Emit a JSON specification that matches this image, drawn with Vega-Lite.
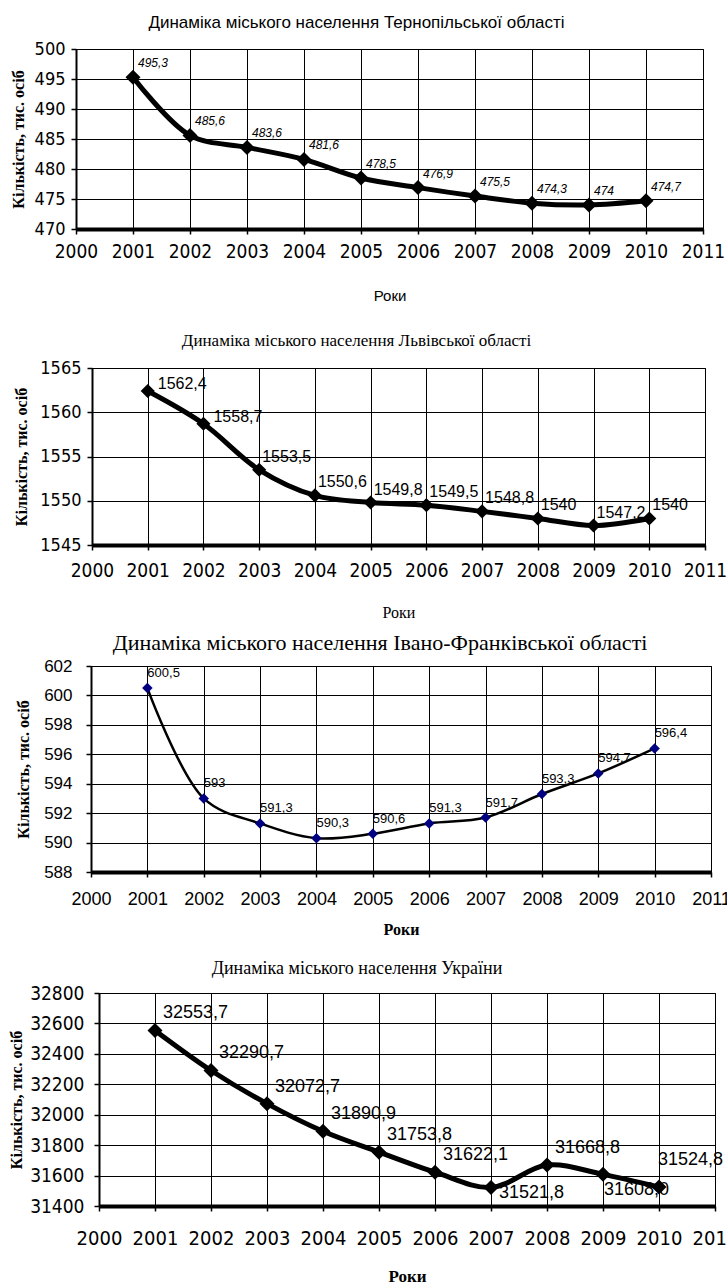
{
  "$schema": "https://vega.github.io/schema/vega-lite/v6.json",
  "background": "white",
  "padding": {"left": 0, "top": 13, "right": 0, "bottom": 0},
  "datasets": {
    "tern": [
      {"year": 2001, "value": 495.3, "label": "495,3"},
      {"year": 2002, "value": 485.6, "label": "485,6"},
      {"year": 2003, "value": 483.6, "label": "483,6"},
      {"year": 2004, "value": 481.6, "label": "481,6"},
      {"year": 2005, "value": 478.5, "label": "478,5"},
      {"year": 2006, "value": 476.9, "label": "476,9"},
      {"year": 2007, "value": 475.5, "label": "475,5"},
      {"year": 2008, "value": 474.3, "label": "474,3"},
      {"year": 2009, "value": 474.0, "label": "474"},
      {"year": 2010, "value": 474.7, "label": "474,7"}
    ],
    "lviv": [
      {"year": 2001, "value": 1562.4, "label": "1562,4"},
      {"year": 2002, "value": 1558.7, "label": "1558,7"},
      {"year": 2003, "value": 1553.5, "label": "1553,5"},
      {"year": 2004, "value": 1550.6, "label": "1550,6"},
      {"year": 2005, "value": 1549.8, "label": "1549,8"},
      {"year": 2006, "value": 1549.5, "label": "1549,5"},
      {"year": 2007, "value": 1548.8, "label": "1548,8"},
      {"year": 2008, "value": 1548.0, "label": "1540"},
      {"year": 2009, "value": 1547.2, "label": "1547,2"},
      {"year": 2010, "value": 1548.0, "label": "1540"}
    ],
    "ifr": [
      {"year": 2001, "value": 600.5, "label": "600,5"},
      {"year": 2002, "value": 593.0, "label": "593"},
      {"year": 2003, "value": 591.3, "label": "591,3"},
      {"year": 2004, "value": 590.3, "label": "590,3"},
      {"year": 2005, "value": 590.6, "label": "590,6"},
      {"year": 2006, "value": 591.3, "label": "591,3"},
      {"year": 2007, "value": 591.7, "label": "591,7"},
      {"year": 2008, "value": 593.3, "label": "593,3"},
      {"year": 2009, "value": 594.7, "label": "594,7"},
      {"year": 2010, "value": 596.4, "label": "596,4"}
    ],
    "ukr": [
      {"year": 2001, "value": 32553.7, "label": "32553,7"},
      {"year": 2002, "value": 32290.7, "label": "32290,7"},
      {"year": 2003, "value": 32072.7, "label": "32072,7"},
      {"year": 2004, "value": 31890.9, "label": "31890,9"},
      {"year": 2005, "value": 31753.8, "label": "31753,8"},
      {"year": 2006, "value": 31622.1, "label": "31622,1"},
      {"year": 2007, "value": 31521.8, "label": "31521,8"},
      {"year": 2008, "value": 31668.8, "label": "31668,8"},
      {"year": 2009, "value": 31608.0, "label": "31608,0"},
      {"year": 2010, "value": 31524.8, "label": "31524,8"}
    ]
  },
  "config": {
    "view": {"stroke": "black", "strokeWidth": 1},
    "title": {"color": "black", "fontWeight": "normal", "anchor": "middle"},
    "axis": {
      "grid": true, "gridColor": "black", "gridOpacity": 1, "gridWidth": 1,
      "domainColor": "black", "tickColor": "black", "tickSize": 5, "tickWidth": 1.5,
      "labelColor": "black", "titleColor": "black",
      "labelFont": "Liberation Sans Narrow, Arial Narrow, DejaVu Sans Condensed, sans-serif",
      "labelFontSize": 18, "labelOverlap": false, "labelFlush": false, "format": "d",
      "titleFont": "Liberation Serif", "titleFontWeight": "bold", "titleFontSize": 16
    },
    "axisX": {"domainWidth": 4, "labelAngle": 0, "labelPadding": 8},
    "axisY": {"domainWidth": 2, "labelPadding": 6}
  },
  "spacing": 0,
  "vconcat": [
    {
      "spacing": 0,
      "hconcat": [
        {"width": 9, "height": 282, "data": {"values": []}, "mark": "point", "view": {"stroke": null, "fill": "white"}},
        {
          "width": 627, "height": 180,
          "title": {"text": "Динаміка міського населення Тернопільської області", "font": "Liberation Sans Narrow, Arial Narrow, sans-serif", "fontSize": 17, "offset": 8, "dx": -33},
          "data": {"name": "tern"},
          "encoding": {
            "x": {"field": "year", "type": "quantitative", "scale": {"domain": [2000, 2011], "nice": false, "zero": false},
              "axis": {"values": [2000, 2001, 2002, 2003, 2004, 2005, 2006, 2007, 2008, 2009, 2010, 2011], "title": "Роки", "titleFont": "Liberation Sans", "titleFontWeight": "normal", "titleFontSize": 15, "titlePadding": 27, "labelFontSize": 19}},
            "y": {"field": "value", "type": "quantitative", "scale": {"domain": [470, 500], "nice": false, "zero": false},
              "axis": {"values": [470, 475, 480, 485, 490, 495, 500], "title": "Кількість, тис. осіб", "titlePadding": 8}}
          },
          "layer": [
            {"mark": {"type": "line", "interpolate": "catmull-rom", "strokeWidth": 5, "color": "black"}},
            {"mark": {"type": "text", "align": "left", "baseline": "middle", "dx": 5, "dy": -14, "fontSize": 12, "fontStyle": "italic", "font": "Liberation Sans Narrow, Arial Narrow, sans-serif", "color": "black"},
              "encoding": {"text": {"field": "label"}}},
            {"mark": {"type": "point", "shape": "diamond", "filled": true, "size": 225, "color": "black", "opacity": 1}}
          ]
        }
      ]
    },
    {
      "spacing": 0,
      "hconcat": [
        {"width": 13, "height": 263, "data": {"values": []}, "mark": "point", "view": {"stroke": null, "fill": "white"}},
        {
          "width": 613, "height": 177,
          "title": {"text": "Динаміка міського населення Львівської області", "font": "Liberation Serif", "fontSize": 17, "offset": 9, "dx": -42},
          "data": {"name": "lviv"},
          "encoding": {
            "x": {"field": "year", "type": "quantitative", "scale": {"domain": [2000, 2011], "nice": false, "zero": false},
              "axis": {"values": [2000, 2001, 2002, 2003, 2004, 2005, 2006, 2007, 2008, 2009, 2010, 2011], "title": "Роки", "titleFont": "Liberation Serif", "titleFontWeight": "normal", "titleFontSize": 16, "titlePadding": 24, "labelPadding": 11, "labelFontSize": 19}},
            "y": {"field": "value", "type": "quantitative", "scale": {"domain": [1545, 1565], "nice": false, "zero": false},
              "axis": {"values": [1545, 1550, 1555, 1560, 1565], "title": "Кількість, тис. осіб", "titlePadding": 10}}
          },
          "layer": [
            {"mark": {"type": "line", "interpolate": "catmull-rom", "strokeWidth": 5, "color": "black"}},
            {"transform": [{"filter": "datum.year <= 2002"}],
              "mark": {"type": "text", "align": "left", "baseline": "middle", "dx": 10, "dy": -7, "fontSize": 16, "font": "Liberation Sans Narrow, Arial Narrow, sans-serif", "color": "black"},
              "encoding": {"text": {"field": "label"}}},
            {"transform": [{"filter": "datum.year > 2002"}],
              "mark": {"type": "text", "align": "left", "baseline": "middle", "dx": 3, "dy": -13, "fontSize": 16, "font": "Liberation Sans Narrow, Arial Narrow, sans-serif", "color": "black"},
              "encoding": {"text": {"field": "label"}}},
            {"mark": {"type": "point", "shape": "diamond", "filled": true, "size": 200, "color": "black", "opacity": 1}}
          ]
        }
      ]
    },
    {
      "spacing": 0,
      "hconcat": [
        {"width": 15, "height": 293, "data": {"values": []}, "mark": "point", "view": {"stroke": null, "fill": "white"}},
        {
          "width": 620, "height": 206,
          "title": {"text": "Динаміка міського населення Івано-Франківської області", "font": "Liberation Serif", "fontSize": 22, "offset": 2, "dx": -21},
          "data": {"name": "ifr"},
          "encoding": {
            "x": {"field": "year", "type": "quantitative", "scale": {"domain": [2000, 2011], "nice": false, "zero": false},
              "axis": {"values": [2000, 2001, 2002, 2003, 2004, 2005, 2006, 2007, 2008, 2009, 2010, 2011], "title": "Роки", "titleFont": "Liberation Serif", "titleFontWeight": "bold", "titleFontSize": 16, "titlePadding": 13, "labelPadding": 13, "labelFont": "Liberation Sans, Arial, sans-serif", "labelFontSize": 18}},
            "y": {"field": "value", "type": "quantitative", "scale": {"domain": [588, 602], "nice": false, "zero": false},
              "axis": {"values": [588, 590, 592, 594, 596, 598, 600, 602], "title": "Кількість, тис. осіб", "titlePadding": 12, "labelFont": "Liberation Sans, Arial, sans-serif", "labelFontSize": 17, "labelPadding": 14}}
          },
          "layer": [
            {"mark": {"type": "line", "interpolate": "catmull-rom", "strokeWidth": 2.5, "color": "black"}},
            {"mark": {"type": "text", "align": "left", "baseline": "middle", "dx": 0, "dy": -15, "fontSize": 13, "font": "Liberation Sans, Arial, sans-serif", "color": "black"},
              "encoding": {"text": {"field": "label"}}},
            {"mark": {"type": "point", "shape": "diamond", "filled": true, "size": 110, "color": "#000080", "opacity": 1}}
          ]
        }
      ]
    },
    {
      "spacing": 0,
      "hconcat": [
        {"width": 8, "height": 1, "data": {"values": []}, "mark": "point", "view": {"stroke": null, "fill": "white"}},
        {
          "width": 616, "height": 213,
          "title": {"text": "Динаміка міського населення України", "font": "Liberation Serif", "fontSize": 18, "offset": 6, "dx": -50},
          "data": {"name": "ukr"},
          "encoding": {
            "x": {"field": "year", "type": "quantitative", "scale": {"domain": [2000, 2011], "nice": false, "zero": false},
              "axis": {"values": [2000, 2001, 2002, 2003, 2004, 2005, 2006, 2007, 2008, 2009, 2010, 2011], "title": "Роки", "titleFont": "Liberation Serif", "titleFontWeight": "bold", "titleFontSize": 17, "titlePadding": 20, "labelPadding": 17, "labelFontSize": 20}},
            "y": {"field": "value", "type": "quantitative", "scale": {"domain": [31400, 32800], "nice": false, "zero": false},
              "axis": {"values": [31400, 31600, 31800, 32000, 32200, 32400, 32600, 32800], "title": "Кількість, тис. осіб", "titlePadding": 5, "labelFontSize": 19, "labelPadding": 10}}
          },
          "layer": [
            {"mark": {"type": "line", "interpolate": "catmull-rom", "strokeWidth": 5, "color": "black"}},
            {"transform": [{"filter": "datum.year != 2007 && datum.year != 2009 && datum.year != 2010"}],
              "mark": {"type": "text", "align": "left", "baseline": "middle", "dx": 8, "dy": -17, "fontSize": 18, "font": "Liberation Sans Narrow, Arial Narrow, sans-serif", "color": "black"},
              "encoding": {"text": {"field": "label"}}},
            {"transform": [{"filter": "datum.year == 2010"}],
              "mark": {"type": "text", "align": "left", "baseline": "middle", "dx": -1, "dy": -27, "fontSize": 18, "font": "Liberation Sans Narrow, Arial Narrow, sans-serif", "color": "black"},
              "encoding": {"text": {"field": "label"}}},
            {"transform": [{"filter": "datum.year == 2007"}],
              "mark": {"type": "text", "align": "left", "baseline": "middle", "dx": 8, "dy": 6, "fontSize": 18, "font": "Liberation Sans Narrow, Arial Narrow, sans-serif", "color": "black"},
              "encoding": {"text": {"field": "label"}}},
            {"transform": [{"filter": "datum.year == 2009"}],
              "mark": {"type": "text", "align": "left", "baseline": "middle", "dx": 1, "dy": 16, "fontSize": 18, "font": "Liberation Sans Narrow, Arial Narrow, sans-serif", "color": "black"},
              "encoding": {"text": {"field": "label"}}},
            {"mark": {"type": "point", "shape": "diamond", "filled": true, "size": 225, "color": "black", "opacity": 1}}
          ]
        }
      ]
    }
  ]
}
